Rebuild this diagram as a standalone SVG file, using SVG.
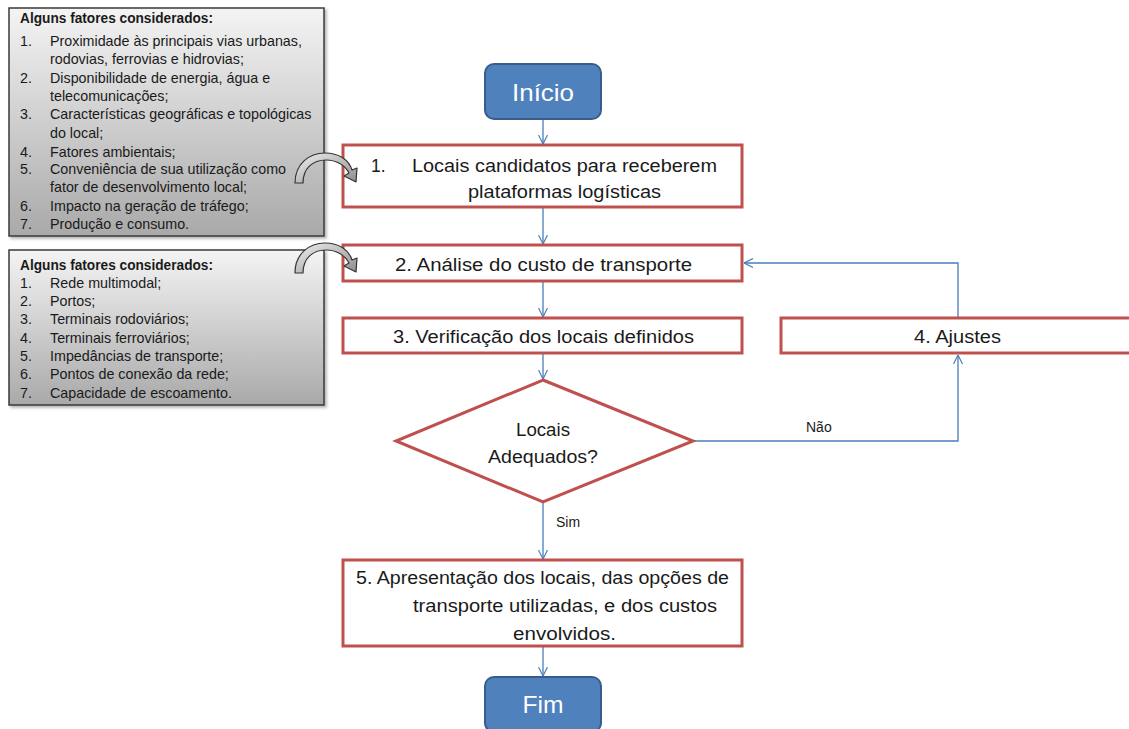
<svg xmlns="http://www.w3.org/2000/svg" width="1129" height="729" viewBox="0 0 1129 729">
<style>
.t{font-family:"Liberation Sans",Arial,sans-serif;fill:#1a1a1a}
.list{font-size:14.3px}
.title{font-size:14px;font-weight:bold}
.box{fill:#fff;stroke:#C0504D;stroke-width:3}
.term{fill:#4F81BD;stroke:#385D8A;stroke-width:2}
.tt{font-family:"Liberation Sans",Arial,sans-serif;fill:#fff;font-size:24px;text-anchor:middle}
.big{font-size:17.5px}
.mid{text-anchor:middle}
.con{fill:none;stroke:#4A7EBB;stroke-width:1.3;marker-end:url(#ah)}
.note{stroke:#3a3a3a;stroke-width:1.5;fill:url(#gg)}
.curve{fill:url(#cg);stroke:#333;stroke-width:1.2;stroke-linejoin:round}
</style>
<defs>
<linearGradient id="gg" x1="0" y1="0" x2="0" y2="1">
<stop offset="0" stop-color="#f4f4f4"/>
<stop offset="1" stop-color="#a9a9a9"/>
</linearGradient>
<linearGradient id="cg" x1="0" y1="0" x2="1" y2="1">
<stop offset="0" stop-color="#f0f0f0"/>
<stop offset="1" stop-color="#8c8c8c"/>
</linearGradient>
<marker id="ah" viewBox="0 0 10 10" refX="10" refY="5" markerWidth="9" markerHeight="11" markerUnits="userSpaceOnUse" orient="auto">
<path d="M0,0 L10,5 L0,10" fill="none" stroke="#4A7EBB" stroke-width="1.3"/>
</marker>
<filter id="sh" x="-5%" y="-5%" width="110%" height="115%">
<feDropShadow dx="2" dy="2" stdDeviation="1.5" flood-color="#000" flood-opacity="0.3"/>
</filter>
</defs>

<g id="connectors">
<line class="con" x1="543" y1="120" x2="543" y2="144"/>
<line class="con" x1="543" y1="208" x2="543" y2="244"/>
<line class="con" x1="543" y1="282" x2="543" y2="317"/>
<line class="con" x1="543" y1="354" x2="543" y2="379"/>
<line class="con" x1="543" y1="503" x2="543" y2="559"/>
<line class="con" x1="543" y1="647" x2="543" y2="676"/>
<polyline class="con" points="694,441 958,441 958,355"/>
<polyline class="con" points="958,317 958,263 744,263"/>
<text class="t" x="556" y="527" font-size="14">Sim</text>
<text class="t" x="806" y="432" font-size="14">Não</text>
</g>

<g id="note1">
<rect class="note" x="9" y="8" width="315" height="228" filter="url(#sh)"/>
<text class="t title" x="20" y="23" textLength="193" lengthAdjust="spacingAndGlyphs">Alguns fatores considerados:</text>
<g class="t list">
<text x="20" y="46">1.</text><text x="50" y="46">Proximidade às principais vias urbanas,</text>
<text x="50" y="64">rodovias, ferrovias e hidrovias;</text>
<text x="20" y="83">2.</text><text x="50" y="83">Disponibilidade de energia, água e</text>
<text x="50" y="101">telecomunicações;</text>
<text x="20" y="119">3.</text><text x="50" y="119">Características geográficas e topológicas</text>
<text x="50" y="138">do local;</text>
<text x="20" y="157">4.</text><text x="50" y="157">Fatores ambientais;</text>
<text x="20" y="174">5.</text><text x="50" y="174">Conveniência de sua utilização como</text>
<text x="50" y="192">fator de desenvolvimento local;</text>
<text x="20" y="211">6.</text><text x="50" y="211">Impacto na geração de tráfego;</text>
<text x="20" y="229">7.</text><text x="50" y="229">Produção e consumo.</text>
</g>
</g>

<g id="note2">
<rect class="note" x="9" y="250" width="315" height="155" filter="url(#sh)"/>
<text class="t title" x="20" y="270" textLength="193" lengthAdjust="spacingAndGlyphs">Alguns fatores considerados:</text>
<g class="t list">
<text x="20" y="288">1.</text><text x="50" y="288">Rede multimodal;</text>
<text x="20" y="306">2.</text><text x="50" y="306">Portos;</text>
<text x="20" y="324">3.</text><text x="50" y="324">Terminais rodoviários;</text>
<text x="20" y="343">4.</text><text x="50" y="343">Terminais ferroviários;</text>
<text x="20" y="361">5.</text><text x="50" y="361">Impedâncias de transporte;</text>
<text x="20" y="379">6.</text><text x="50" y="379">Pontos de conexão da rede;</text>
<text x="20" y="398">7.</text><text x="50" y="398">Capacidade de escoamento.</text>
</g>
</g>

<g id="inicio">
<rect class="term" x="485" y="64" width="116" height="55" rx="9"/>
<text class="tt" x="543" y="101" textLength="62" lengthAdjust="spacingAndGlyphs">Início</text>
</g>

<g id="step1">
<rect class="box" x="343" y="145" width="399" height="62"/>
<text class="t big" x="371" y="172">1.</text>
<text class="t big" x="412" y="172" textLength="305" lengthAdjust="spacingAndGlyphs">Locais candidatos para receberem</text>
<text class="t big" x="468" y="198" textLength="193" lengthAdjust="spacingAndGlyphs">plataformas logísticas</text>
</g>

<g id="step2">
<rect class="box" x="343" y="245" width="399" height="36"/>
<text class="t big" x="395" y="271" textLength="297" lengthAdjust="spacingAndGlyphs">2. Análise do custo de transporte</text>
</g>

<g id="step3">
<rect class="box" x="343" y="318" width="399" height="35"/>
<text class="t big" x="393" y="343" textLength="301" lengthAdjust="spacingAndGlyphs">3. Verificação dos locais definidos</text>
</g>

<g id="step4">
<rect class="box" x="781" y="318" width="352" height="35"/>
<text class="t big" x="914" y="343" textLength="87" lengthAdjust="spacingAndGlyphs">4. Ajustes</text>
</g>

<g id="decision">
<polygon class="box" points="543,380 693,441 543,502 396,441"/>
<text class="t big mid" x="543" y="436" textLength="54" lengthAdjust="spacingAndGlyphs">Locais</text>
<text class="t big mid" x="543" y="463" textLength="110" lengthAdjust="spacingAndGlyphs">Adequados?</text>
</g>

<g id="step5">
<rect class="box" x="343" y="560" width="399" height="86"/>
<text class="t big" x="356" y="584" textLength="373" lengthAdjust="spacingAndGlyphs">5. Apresentação dos locais, das opções de</text>
<text class="t big" x="413" y="612" textLength="304" lengthAdjust="spacingAndGlyphs">transporte utilizadas, e dos custos</text>
<text class="t big" x="513" y="640" textLength="103" lengthAdjust="spacingAndGlyphs">envolvidos.</text>
</g>

<g id="fim">
<rect class="term" x="485" y="677" width="116" height="55" rx="9"/>
<text class="tt" x="543" y="713" textLength="41" lengthAdjust="spacingAndGlyphs">Fim</text>
</g>

<g id="curve1">
<path class="curve" d="M295,183 C295,164 309,153 325,153 C339,153 349,160 352,170 L357,168 L356,182 L344,176 L349,173 C345,165 336,160 326,160 C313,160 303,168 303,183 Z"/>
</g>
<g id="curve2">
<path class="curve" transform="translate(0,90)" d="M295,183 C295,164 309,153 325,153 C339,153 349,160 352,170 L357,168 L356,182 L344,176 L349,173 C345,165 336,160 326,160 C313,160 303,168 303,183 Z"/>
</g>
</svg>
